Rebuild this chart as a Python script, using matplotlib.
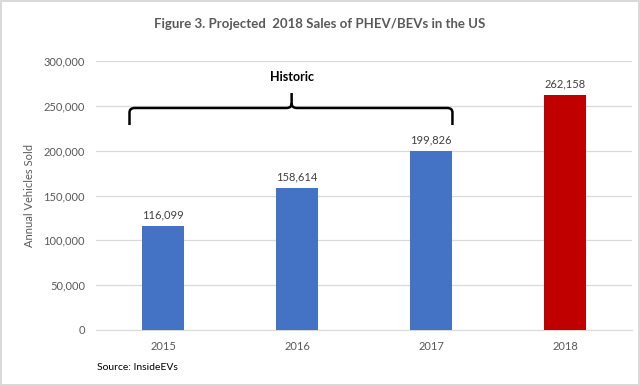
import matplotlib
matplotlib.use('Agg')
import matplotlib.pyplot as plt
from matplotlib.path import Path
import matplotlib.patches as patches

plt.rcParams['font.family'] = ['Lato', 'DejaVu Sans']

years = ['2015', '2016', '2017', '2018']
sales = [116099, 158614, 199826, 262158]
colors = ['#4472C4', '#4472C4', '#4472C4', '#C00000']
yticks = [0, 50000, 100000, 150000, 200000, 250000, 300000]

fig = plt.figure(figsize=(6.4, 3.86), dpi=100)
fig.patch.set_edgecolor('#d9d9d9')
fig.patch.set_linewidth(1.5)
ax = fig.add_axes([96/640, 1-330/386, 536/640, 269/386])

x = range(len(years))
ax.bar(x, sales, width=0.32, color=colors, zorder=3)
for i, v in enumerate(sales):
    ax.text(i, v + 6000, f'{v:,}', ha='center', va='bottom', fontsize=8, color='#404040')

ax.set_xlim(-0.5, 3.5)
ax.set_ylim(0, 300000)
ax.set_yticks(yticks)
ax.set_yticklabels([f'{t:,}' for t in yticks])
ax.set_xticks(list(x))
ax.set_xticklabels(years)
ax.tick_params(length=0, labelsize=8, labelcolor='#595959', pad=8)
ax.yaxis.grid(True, color='#d9d9d9', linewidth=0.9, zorder=0)
for s in ['top', 'right', 'left']:
    ax.spines[s].set_visible(False)
ax.spines['bottom'].set_color('#d9d9d9')
ax.set_ylabel('Annual Vehicles Sold', fontsize=8, color='#595959', labelpad=6)

# brace over historic years
x0, x1, xm = -0.25, 2.16, 0.96
yb, yh, yt = 228600, 247600, 264300
r = 0.04
ry = 5000
verts = [(x0, yb), (x0, yh - ry), (x0, yh), (x0 + r, yh),
         (xm - r, yh), (xm, yh), (xm, yh + ry), (xm, yt),
         (xm, yh + ry), (xm, yh), (xm + r, yh),
         (x1 - r, yh), (x1, yh), (x1, yh - ry), (x1, yb)]
codes = [Path.MOVETO, Path.LINETO, Path.CURVE3, Path.CURVE3,
         Path.LINETO, Path.CURVE3, Path.CURVE3, Path.LINETO,
         Path.MOVETO, Path.CURVE3, Path.CURVE3,
         Path.LINETO, Path.CURVE3, Path.CURVE3, Path.LINETO]
ax.add_patch(patches.PathPatch(Path(verts, codes), fill=False, lw=1.8,
                               edgecolor='black', zorder=4, clip_on=False))
ax.text(xm, 282000, 'Historic', ha='center', va='center', fontsize=9,
        fontweight='bold', color='black')

fig.text(0.5, 1-24/386, 'Figure 3. Projected  2018 Sales of PHEV/BEVs in the US',
         ha='center', va='center', fontsize=9.5, fontweight='bold', color='#595959')
fig.text(97/640, 1-367/386, 'Source: InsideEVs', ha='left', va='center',
         fontsize=7.5, color='black')

fig.savefig('out.png', dpi=100, edgecolor=fig.get_edgecolor())
